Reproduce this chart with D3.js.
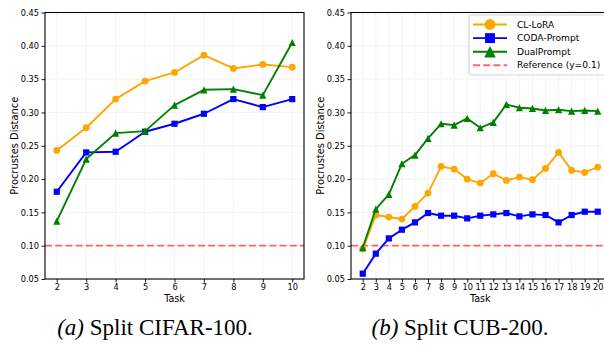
<!DOCTYPE html>
<html><head><meta charset="utf-8">
<script src="https://cdn.jsdelivr.net/npm/d3@7"></script>
<style>
html,body{margin:0;padding:0;background:#fff;overflow:hidden}
svg{display:block}
text{font-family:"DejaVu Sans",sans-serif;fill:#000}
.cap{font-family:"Liberation Serif","Times New Roman",serif}
</style></head>
<body>
<svg id="c" width="604" height="345"></svg>
<script>
// ---- data ----
const tasksA = [2,3,4,5,6,7,8,9,10];
const clLoraA = [0.243,0.277,0.320,0.347,0.360,0.386,0.366,0.372,0.368];
const codaA   = [0.181,0.240,0.241,0.271,0.283,0.298,0.320,0.308,0.320];
const dualA   = [0.137,0.230,0.269,0.272,0.311,0.334,0.335,0.326,0.405];

const tasksB = [2,3,4,5,6,7,8,9,10,11,12,13,14,15,16,17,18,19,20];
const clLoraB = [0.095,0.146,0.143,0.140,0.159,0.179,0.219,0.215,0.200,0.194,0.208,0.198,0.203,0.199,0.216,0.240,0.213,0.210,0.218];
const codaB   = [0.058,0.088,0.111,0.124,0.135,0.149,0.145,0.145,0.141,0.145,0.147,0.149,0.144,0.147,0.146,0.135,0.146,0.151,0.151];
const dualB   = [0.097,0.155,0.177,0.223,0.236,0.261,0.283,0.281,0.291,0.277,0.285,0.312,0.307,0.306,0.303,0.304,0.302,0.303,0.302];

const yTicks = [0.05,0.10,0.15,0.20,0.25,0.30,0.35,0.40,0.45];
const refValue = 0.1;
const seriesNames = ["CL-LoRA","CODA-Prompt","DualPrompt"];
const seriesColors = ["#FFA500","#0000FF","#008000"];
const seriesMarkers = ["circle","square","triangle"];
const refLabel = "Reference (y=0.1)";
const captions = [["(a)"," Split CIFAR-100."],["(b)"," Split CUB-200."]];

const svg = d3.select("#c");

function drawPanel(cfg){
  const {left,right,top,bottom,tasks,series,xDomain,capX,legend} = cfg;
  const g = svg.append("g");
  const x = d3.scaleLinear().domain(xDomain).range([left,right]);
  const y = d3.scaleLinear().domain([0.05,0.45]).range([bottom,top]);

  // grid
  const grid = g.append("g").attr("stroke","#b0b0b0").attr("stroke-opacity",0.45)
    .attr("stroke-width",0.8).attr("stroke-dasharray","1,1.6");
  grid.selectAll("line.gx").data(tasks).join("line")
    .attr("x1",d=>x(d)).attr("x2",d=>x(d)).attr("y1",top).attr("y2",bottom);
  grid.selectAll("line.gy").data(yTicks).join("line")
    .attr("x1",left).attr("x2",right).attr("y1",d=>y(d)).attr("y2",d=>y(d));

  // reference line
  g.append("line").attr("x1",left).attr("x2",right).attr("y1",y(refValue)).attr("y2",y(refValue))
    .attr("stroke","#ff0000").attr("stroke-opacity",0.6).attr("stroke-width",1.8)
    .attr("stroke-dasharray","7,3.2");

  // series
  series.forEach((vals,i)=>{
    const col = seriesColors[i];
    const pts = tasks.map((t,j)=>[x(t),y(vals[j])]);
    g.append("path").attr("d",d3.line()(pts)).attr("fill","none")
      .attr("stroke",col).attr("stroke-width",1.9).attr("stroke-linejoin","round");
    const m = g.append("g").attr("fill",col);
    pts.forEach(p=>drawMarker(m,seriesMarkers[i],p[0],p[1],1));
  });

  // axes
  const xa = g.append("g").attr("transform",`translate(0,${bottom})`)
    .call(d3.axisBottom(x).tickValues(tasks).tickFormat(d3.format("d")).tickSize(3.5).tickPadding(1.5));
  const ya = g.append("g").attr("transform",`translate(${left},0)`)
    .call(d3.axisLeft(y).tickValues(yTicks).tickFormat(d3.format(".2f")).tickSize(3.5).tickPadding(2.5));
  [xa,ya].forEach(a=>{
    a.select(".domain").remove();
    a.selectAll("line").attr("stroke","#000").attr("stroke-width",0.9);
    a.selectAll("text").attr("font-size","8.2px").attr("font-family","DejaVu Sans").attr("fill","#222");
  });
  // frame
  g.append("rect").attr("x",left).attr("y",top).attr("width",right-left).attr("height",bottom-top)
    .attr("fill","none").attr("stroke","#000").attr("stroke-width",1.1);

  // labels
  g.append("text").attr("x",(left+right)/2).attr("y",302).attr("text-anchor","middle")
    .attr("font-size","9.6px").attr("fill","#222").text("Task");
  g.append("text").attr("transform",`translate(${left-30.5},${(top+bottom)/2}) rotate(-90)`)
    .attr("text-anchor","middle").attr("dy","0.35em").attr("font-size","9.9px").attr("fill","#222")
    .text("Procrustes Distance");

  // caption
  const c = g.append("text").attr("class","cap").attr("x",capX).attr("y",335)
    .attr("text-anchor","middle").attr("font-size","23px");
  c.append("tspan").attr("font-style","italic").text(cfg.caption[0]);
  c.append("tspan").text(cfg.caption[1]);

  if(legend){
    const lx=469, ly=15, lw=140, lh=60;
    g.append("rect").attr("x",lx).attr("y",ly).attr("width",lw).attr("height",lh).attr("rx",2.5)
      .attr("fill","#fff").attr("fill-opacity",0.85).attr("stroke","#ccc").attr("stroke-width",0.9);
    const rows = seriesNames.map((n,i)=>({name:n,color:seriesColors[i],marker:seriesMarkers[i]}));
    rows.push({name:refLabel,color:"#ff0000",marker:null});
    rows.forEach((r,i)=>{
      const yy = ly+9.5+i*13.6;
      const ln = g.append("line").attr("x1",lx+4).attr("x2",lx+38).attr("y1",yy).attr("y2",yy)
        .attr("stroke",r.color).attr("stroke-width",1.9);
      if(!r.marker){ ln.attr("stroke-opacity",0.6).attr("stroke-dasharray","7,3.2"); }
      else drawMarker(g.append("g").attr("fill",r.color),r.marker,lx+21,yy,1.6);
      g.append("text").attr("x",lx+48).attr("y",yy).attr("dy","0.35em")
        .attr("font-size","9.1px").attr("fill","#222").text(r.name);
    });
  }
}

function drawMarker(g,type,cx,cy,s){
  if(type==="circle") g.append("circle").attr("cx",cx).attr("cy",cy).attr("r",3.4*s);
  else if(type==="square"){ const h=3.1*s; g.append("rect").attr("x",cx-h).attr("y",cy-h).attr("width",2*h).attr("height",2*h); }
  else { const h=3.6*s; g.append("path").attr("d",`M${cx},${cy-h}L${cx-h},${cy+h}L${cx+h},${cy+h}Z`); }
}

drawPanel({left:45,right:304,top:12.5,bottom:279,tasks:tasksA,xDomain:[1.6,10.4],
  series:[clLoraA,codaA,dualA],capX:155,caption:captions[0],legend:false});
drawPanel({left:351,right:609.5,top:12.5,bottom:279,tasks:tasksB,xDomain:[1.1,20.9],
  series:[clLoraB,codaB,dualB],capX:460,caption:captions[1],legend:true});
</script>
</body></html>
